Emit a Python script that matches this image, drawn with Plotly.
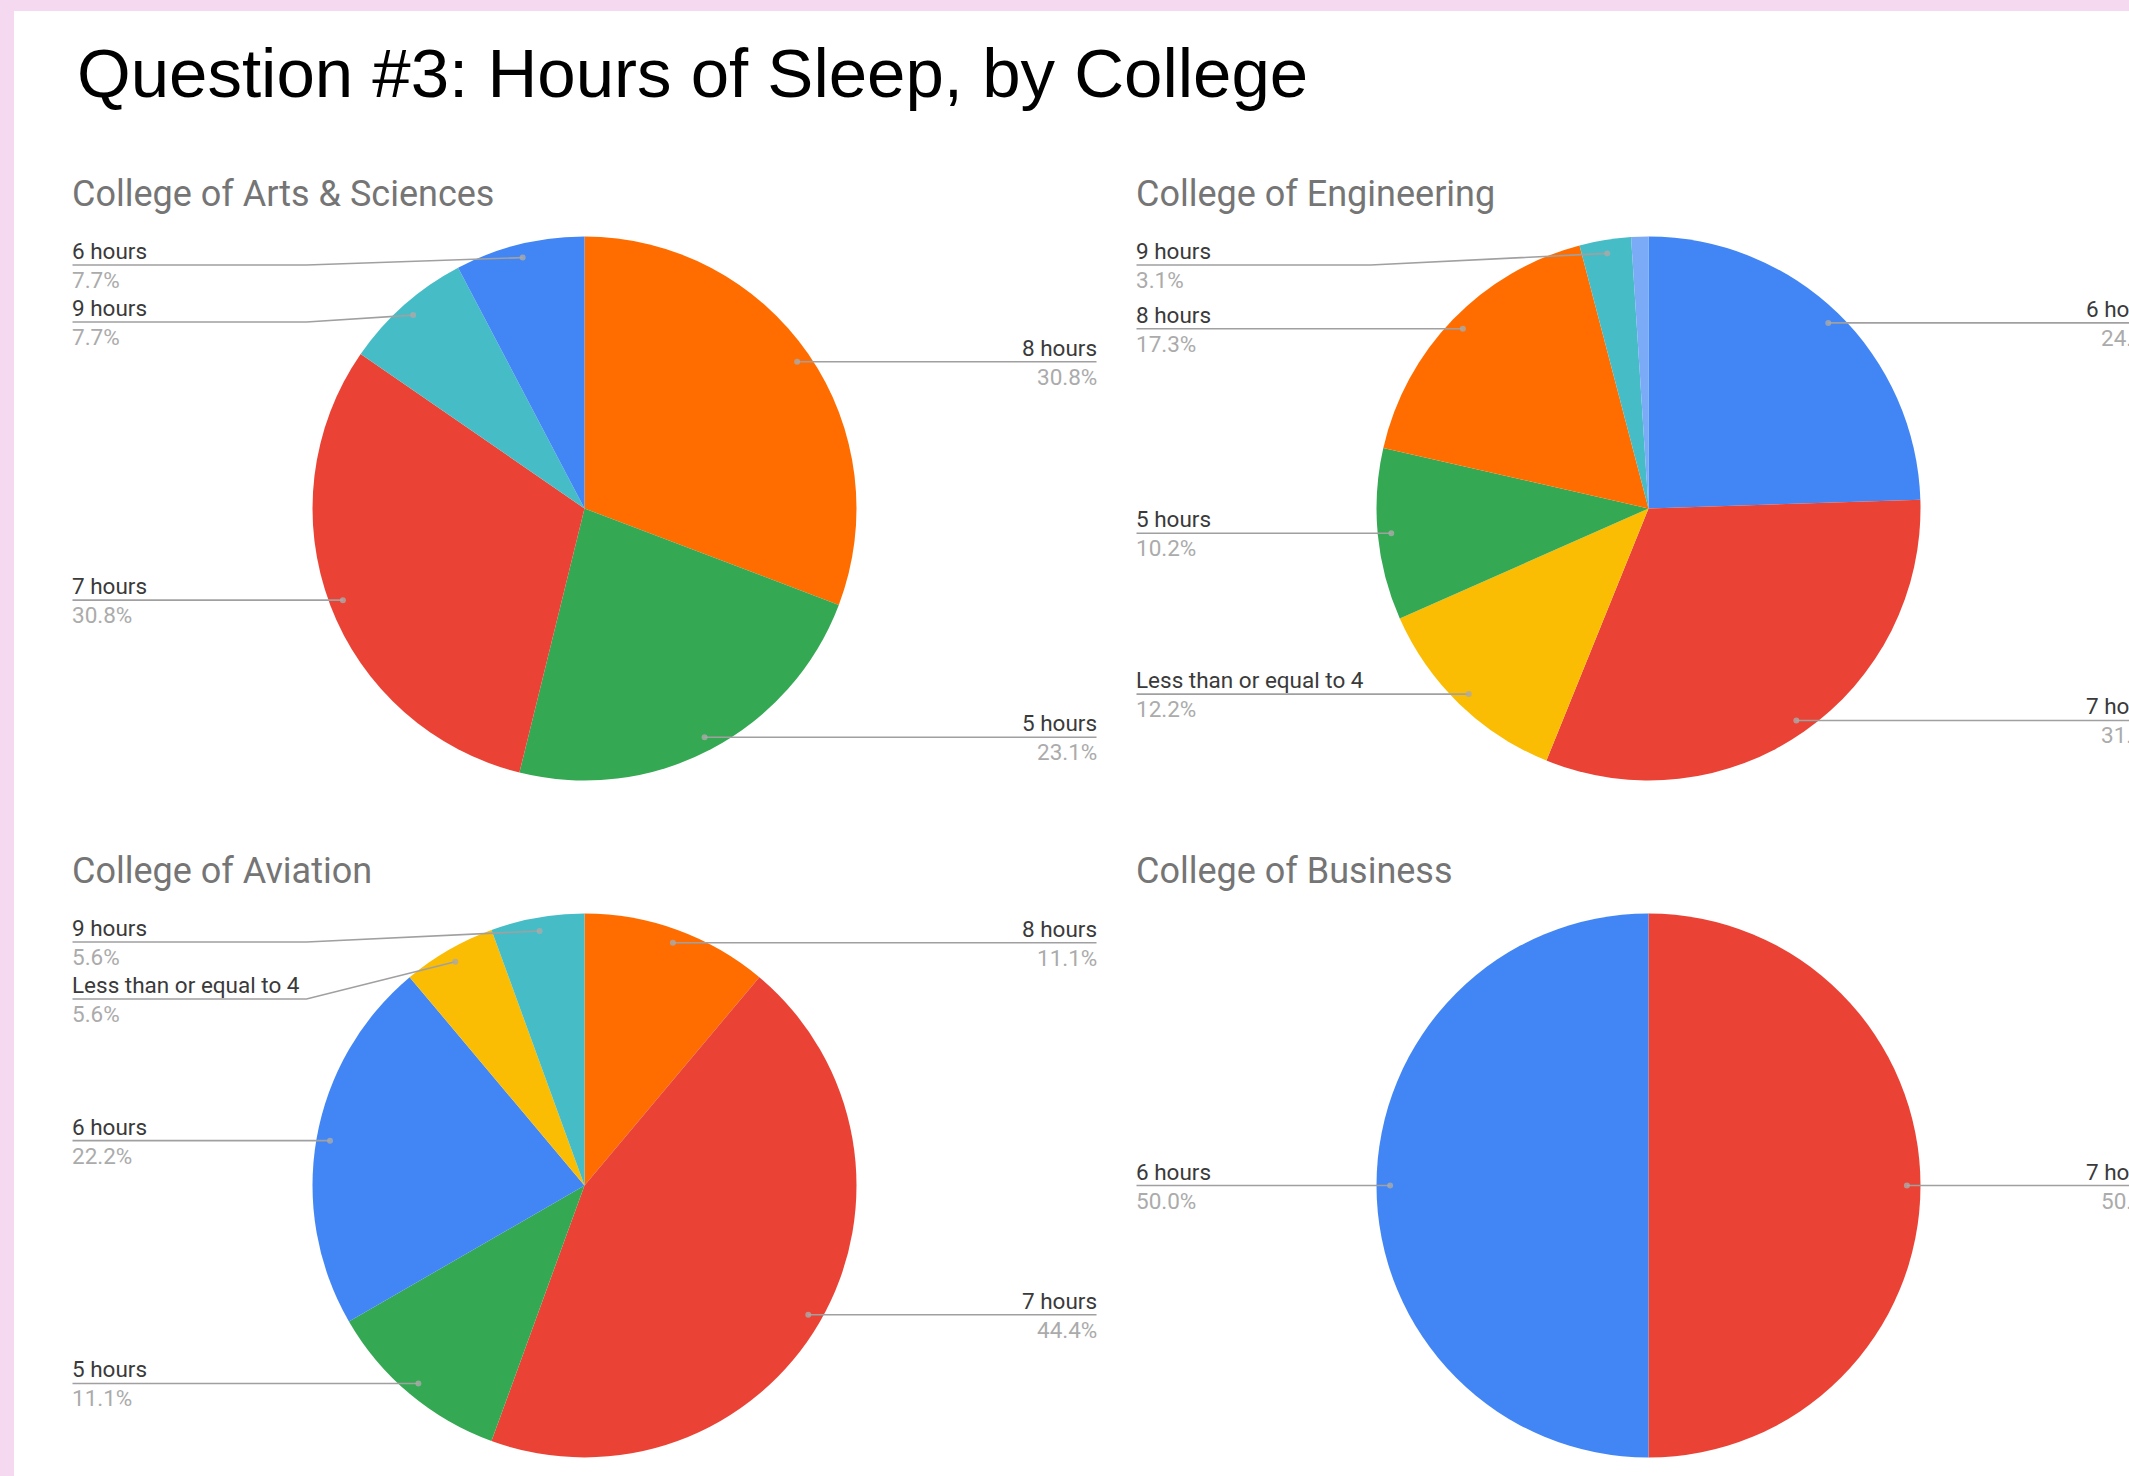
import math
import plotly.graph_objects as go

W, H = 2129, 1476

TITLE = "Question #3: Hours of Sleep, by College"

CAT_COLORS = {
    "6 hours": "#4285F4",
    "7 hours": "#EA4335",
    "Less than or equal to 4": "#FBBC04",
    "5 hours": "#34A853",
    "8 hours": "#FF6D01",
    "9 hours": "#46BDC6",
    "10 or more hours": "#7BAAF7",
}

# --- data (response counts per category, in slice order clockwise from 12 o'clock)
arts_labels = ["8 hours", "5 hours", "7 hours", "9 hours", "6 hours"]
arts_counts = [4, 3, 4, 1, 1]

eng_labels = ["6 hours", "7 hours", "Less than or equal to 4", "5 hours",
              "8 hours", "9 hours", "10 or more hours"]
eng_counts = [24, 31, 12, 10, 17, 3, 1]

avi_labels = ["8 hours", "7 hours", "5 hours", "6 hours",
              "Less than or equal to 4", "9 hours"]
avi_counts = [2, 8, 2, 4, 1, 1]

bus_labels = ["7 hours", "6 hours"]
bus_counts = [1, 1]

charts = [
    ("College of Arts & Sciences", arts_labels, arts_counts),
    ("College of Engineering", eng_labels, eng_counts),
    ("College of Aviation", avi_labels, avi_counts),
    ("College of Business", bus_labels, bus_counts),
]

# --- layout geometry (pixels)
CENTERS = [(584.5, 508.5), (1648.5, 508.5), (584.5, 1185.5), (1648.5, 1185.5)]
R = 272.0
LABEL_DX = 512.0
FLAT = 234.0
GAP = 57.0
TOP_PAD = 28.5

PINK = "#f4d9f1"
LINE_COL = "#a0a0a0"
FONT = "Roboto, Arial, sans-serif"


def px(x):
    return x / W


def py(y):
    return 1 - y / H


fig = go.Figure()
shapes = [
    dict(type="rect", xref="paper", yref="paper", x0=px(14), x1=1.01, y0=-0.01,
         y1=py(11), fillcolor="white", line=dict(width=0), layer="below"),
]
annotations = [
    dict(text=TITLE, x=px(75), y=py(73), xref="paper", yref="paper",
         xanchor="left", yanchor="middle", showarrow=False,
         font=dict(family="Arial, Liberation Sans", size=69, color="#000000")),
]

for (title, labels, counts), (cx, cy) in zip(charts, CENTERS):
    fig.add_trace(go.Pie(
        labels=labels, values=counts, sort=False, direction="clockwise",
        rotation=0, textinfo="none", hoverinfo="label+percent",
        marker=dict(colors=[CAT_COLORS[l] for l in labels], line=dict(width=0)),
        domain=dict(x=[px(cx - R), px(cx + R)], y=[py(cy + R), py(cy - R)]),
        showlegend=False,
    ))
    annotations.append(dict(
        text=title, x=px(cx - LABEL_DX - 3), y=py(cy - 315), xref="paper", yref="paper",
        xanchor="left", yanchor="middle", showarrow=False,
        font=dict(family=FONT, size=36, color="#757575")))

    total = sum(counts)
    cum = 0.0
    items = []
    for lab, c in zip(labels, counts):
        frac = c / total
        mid = math.radians((cum + frac / 2) * 360)
        cum += frac
        if frac < 0.02:
            continue
        dx = cx + 0.95 * R * math.sin(mid)
        dy = cy - 0.95 * R * math.cos(mid)
        side = "left" if math.sin(mid) < -1e-9 else "right"
        items.append(dict(label=lab, pct=f"{frac * 100:.1f}%", dx=dx, dy=dy, side=side))

    for side in ("left", "right"):
        group = sorted([it for it in items if it["side"] == side], key=lambda d: d["dy"])
        prev = None
        for it in group:
            ly = max(it["dy"], cy - R + TOP_PAD)
            if prev is not None:
                ly = max(ly, prev + GAP)
            prev = ly
            sgn = -1 if side == "left" else 1
            tx = cx + sgn * LABEL_DX
            if abs(ly - it["dy"]) < 0.5:
                path = f"M {px(tx)},{py(ly)} L {px(it['dx'])},{py(it['dy'])}"
            else:
                fx = tx - sgn * FLAT
                path = (f"M {px(tx)},{py(ly)} L {px(fx)},{py(ly)} "
                        f"L {px(it['dx'])},{py(it['dy'])}")
            shapes.append(dict(type="path", path=path, xref="paper", yref="paper",
                               line=dict(color=LINE_COL, width=1.6), layer="above"))
            shapes.append(dict(type="circle", xref="paper", yref="paper",
                               x0=px(it["dx"] - 3), x1=px(it["dx"] + 3),
                               y0=py(it["dy"] + 3), y1=py(it["dy"] - 3),
                               fillcolor="rgba(170,170,170,0.8)",
                               line=dict(width=0), layer="above"))
            anchor = "left" if side == "left" else "right"
            shift = sgn * 2.5
            annotations.append(dict(
                text=it["label"], x=px(tx), y=py(ly - 14), xref="paper", yref="paper",
                xanchor=anchor, yanchor="middle", showarrow=False, xshift=shift,
                font=dict(family=FONT, size=22.5, color="#3a3a3a")))
            annotations.append(dict(
                text=it["pct"], x=px(tx), y=py(ly + 15), xref="paper", yref="paper",
                xanchor=anchor, yanchor="middle", showarrow=False, xshift=shift,
                font=dict(family=FONT, size=22.5, color="#ababab")))

fig.update_layout(
    width=W, height=H,
    margin=dict(l=0, r=0, t=0, b=0),
    paper_bgcolor=PINK, plot_bgcolor=PINK,
    shapes=shapes, annotations=annotations,
)

fig.write_html("out.html")
